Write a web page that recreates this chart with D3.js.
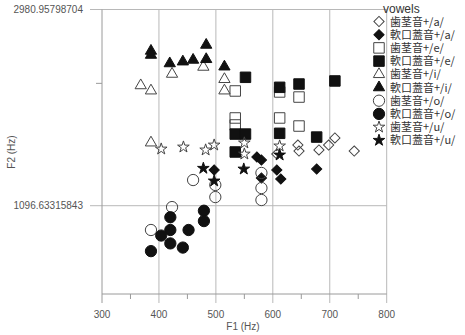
<!DOCTYPE html>
<html>
<head>
<meta charset="utf-8">
<script src="https://cdn.jsdelivr.net/npm/d3@7"></script>
<style>
  body { margin: 0; background: #fff; }
  svg { display: block; }
</style>
</head>
<body>
<div id="chart"></div>
<script>
// ---- data (F1, F2 in Hz) ----
const alveolarA = [[607,1427],[644,1494],[646,1449],[681,1457],[698,1494],[709,1549],[743,1449]];
const velarA    = [[497,1316],[572,1406],[580,1384],[580,1263],[607,1316],[614,1257],[677,1322]];
const alveolarE = [[534,1968],[534,1715],[534,1655],[612,1958],[612,1715],[646,1908],[646,1646]];
const velarE    = [[552,2110],[612,2005],[646,2039],[709,2071],[534,1580],[552,1580],[612,1586],[677,1556],[534,1442]];
const alveolarI = [[368,2024],[386,1971],[423,2146],[478,2224],[515,2089],[515,1971],[386,1512]];
const velarI    = [[386,2413],[386,2364],[419,2264],[442,2285],[460,2305],[483,2488],[483,2313],[515,2227]];
const alveolarO = [[460,1250],[499,1219],[499,1146],[423,1089],[386,969],[580,1296],[580,1200],[580,1129]];
const velarO    = [[420,1034],[479,1069],[479,1014],[420,969],[452,969],[404,942],[420,905],[442,886],[386,870]];
const alveolarU = [[404,1464],[443,1479],[482,1457],[497,1494],[550,1510],[550,1427],[612,1487]];
const velarU    = [[478,1327],[497,1244],[549,1322],[612,1420]];

const seriesNames = ["歯茎音+/a/","軟口蓋音+/a/","歯茎音+/e/","軟口蓋音+/e/","歯茎音+/i/",
                     "軟口蓋音+/i/","歯茎音+/o/","軟口蓋音+/o/","歯茎音+/u/","軟口蓋音+/u/"];
const seriesData  = [alveolarA, velarA, alveolarE, velarE, alveolarI, velarI, alveolarO, velarO, alveolarU, velarU];

const xTicks = [300, 400, 500, 600, 700, 800];
const xMinorTicks = [350, 450, 550, 650, 750];
const yTicks = [2980.95798704, 1096.63315843];
const yTickLabels = ["2980.95798704", "1096.63315843"];
const yMinorTicks = [2046];

// ---- layout ----
const width = 465, height = 335;
const plot = { left: 102, right: 386.7, top: 9.5, bottom: 294 };

// marker shapes per series (open / filled alternate)
const shapes = [
  { type: d3.symbolSquare, size: 52, rotate: 45 },
  { type: d3.symbolSquare, size: 52, rotate: 45 },
  { type: d3.symbolSquare, size: 110, rotate: 0 },
  { type: d3.symbolSquare, size: 110, rotate: 0 },
  { type: d3.symbolTriangle, size: 55, rotate: 0 },
  { type: d3.symbolTriangle, size: 55, rotate: 0 },
  { type: d3.symbolCircle, size: 100, rotate: 0 },
  { type: d3.symbolCircle, size: 100, rotate: 0 },
  { type: d3.symbolStar, size: 42, rotate: 0 },
  { type: d3.symbolStar, size: 42, rotate: 0 }
];

const svg = d3.select("#chart").append("svg")
  .attr("width", width)
  .attr("height", height);

const x = d3.scaleLinear().domain([300, 800]).range([plot.left, plot.right]);
const y = d3.scaleLog().domain([699.3, Math.exp(8)]).range([plot.bottom, plot.top]);

const gridColor = "#b8b8b8";
const axisColor = "#9a9a9a";
const textColor = "#555";

// vertical grid lines
svg.append("g").selectAll("line")
  .data(xTicks.slice(1))
  .enter().append("line")
  .attr("x1", d => x(d)).attr("x2", d => x(d))
  .attr("y1", plot.top).attr("y2", plot.bottom + 9)
  .attr("stroke", gridColor);

// horizontal grid lines
svg.append("g").selectAll("line")
  .data(yTicks)
  .enter().append("line")
  .attr("x1", plot.left - 12).attr("x2", plot.right)
  .attr("y1", d => y(d)).attr("y2", d => y(d))
  .attr("stroke", gridColor);

// axes lines
svg.append("line")
  .attr("x1", plot.left).attr("x2", plot.left)
  .attr("y1", plot.top).attr("y2", plot.bottom + 9)
  .attr("stroke", axisColor);
svg.append("line")
  .attr("x1", plot.left).attr("x2", plot.right)
  .attr("y1", plot.bottom).attr("y2", plot.bottom)
  .attr("stroke", axisColor);

// minor ticks
svg.append("g").selectAll("line")
  .data(xMinorTicks)
  .enter().append("line")
  .attr("x1", d => x(d)).attr("x2", d => x(d))
  .attr("y1", plot.bottom).attr("y2", plot.bottom + 5)
  .attr("stroke", axisColor);
svg.append("g").selectAll("line")
  .data(yMinorTicks)
  .enter().append("line")
  .attr("x1", plot.left - 6).attr("x2", plot.left)
  .attr("y1", d => y(d)).attr("y2", d => y(d))
  .attr("stroke", axisColor);

// tick labels
svg.append("g").selectAll("text")
  .data(xTicks)
  .enter().append("text")
  .attr("x", d => x(d))
  .attr("y", plot.bottom + 24)
  .attr("text-anchor", "middle")
  .style("font-family", "Liberation Sans, Arial, sans-serif")
  .style("font-size", "10px")
  .style("fill", textColor)
  .text(d => d);

svg.append("g").selectAll("text")
  .data(yTicks)
  .enter().append("text")
  .attr("x", plot.left - 19)
  .attr("y", d => y(d) + 3.5)
  .attr("text-anchor", "end")
  .style("font-family", "Liberation Sans, Arial, sans-serif")
  .style("font-size", "10px")
  .style("fill", textColor)
  .text((d, i) => yTickLabels[i]);

// axis titles
svg.append("text")
  .attr("x", 243).attr("y", 330)
  .attr("text-anchor", "middle")
  .style("font-family", "Liberation Sans, Arial, sans-serif")
  .style("font-size", "10px")
  .style("fill", textColor)
  .text("F1 (Hz)");
svg.append("text")
  .attr("transform", "translate(15,152) rotate(-90)")
  .attr("text-anchor", "middle")
  .style("font-family", "Liberation Sans, Arial, sans-serif")
  .style("font-size", "10px")
  .style("fill", textColor)
  .text("F2 (Hz)");

// markers
function symbolPath(i) {
  return d3.symbol().type(shapes[i].type).size(shapes[i].size)();
}
function styleMarker(sel, i) {
  const filled = i % 2 === 1;
  sel.attr("d", symbolPath(i))
    .attr("fill", filled ? "#111" : "none")
    .attr("stroke", filled ? "#111" : "#444")
    .attr("stroke-width", 1);
}

const points = svg.append("g");
seriesData.forEach((data, i) => {
  points.append("g").selectAll("path")
    .data(data)
    .enter().append("path")
    .attr("transform", d => `translate(${x(d[0])},${y(d[1])}) rotate(${shapes[i].rotate})`)
    .call(styleMarker, i);
});

// legend
const legend = svg.append("g");
legend.append("text")
  .attr("x", 383).attr("y", 13)
  .style("font-family", "Liberation Sans, Arial, sans-serif")
  .style("font-size", "12px")
  .style("fill", "#333")
  .text("vowels");

const items = legend.selectAll("g.item")
  .data(seriesNames)
  .enter().append("g")
  .attr("class", "item")
  .attr("transform", (d, i) => `translate(379,${21.5 + i * 13.2})`);

items.append("path")
  .attr("transform", (d, i) => `rotate(${shapes[i].rotate})`)
  .each(function(d, i) { d3.select(this).call(styleMarker, i); });

items.append("text")
  .attr("x", 11)
  .attr("y", 4)
  .style("font-family", "Noto Sans CJK JP, sans-serif")
  .style("font-size", "11px")
  .style("fill", "#333")
  .text(d => d);
</script>
</body>
</html>
